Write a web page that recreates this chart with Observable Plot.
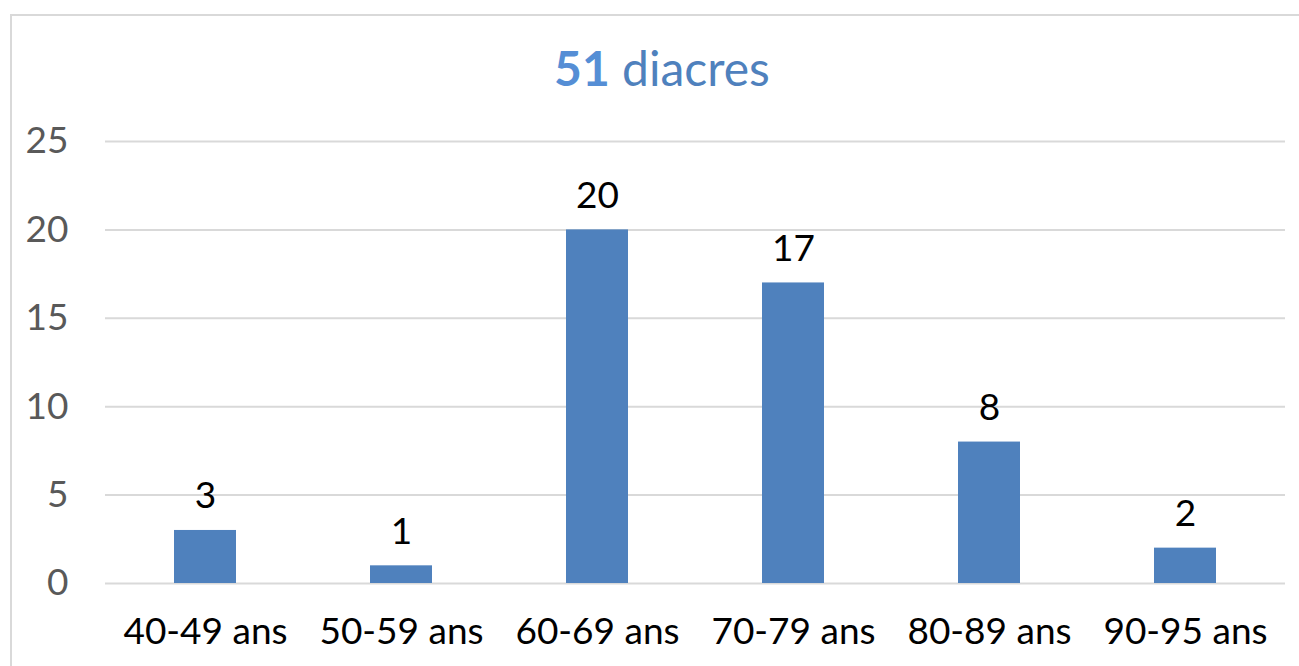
<!DOCTYPE html>
<html>
<head>
<meta charset="utf-8">
<script src="https://cdn.jsdelivr.net/npm/d3@7"></script>
<script src="https://cdn.jsdelivr.net/npm/@observablehq/plot@0.6"></script>
<style>
  html, body { margin: 0; padding: 0; background: #fff; overflow: hidden; }
  body { width: 1299px; height: 666px; position: relative; font-family: Lato, "Open Sans", sans-serif; }
  #frame { position: absolute; left: 10px; top: 14px; width: 1400px; height: 800px;
           border-left: 2px solid #D9D9D9; border-top: 2px solid #D9D9D9; box-sizing: border-box; }
  #title { position: absolute; left: 10px; width: 1304px; top: 40px; text-align: center;
           font-size: 48px; line-height: 56px; color: #4F81BD; }
  #title b { color: #558ED5; font-weight: 700; }
  #chart { position: absolute; left: 0; top: 110px; }
</style>
</head>
<body>
<div id="frame"></div>
<div id="title"><b>51</b> diacres</div>
<div id="chart"></div>
<script>
const categories = ["40-49 ans", "50-59 ans", "60-69 ans", "70-79 ans", "80-89 ans", "90-95 ans"];
const values = [3, 1, 20, 17, 8, 2];
const yTicks = [0, 5, 10, 15, 20, 25];

const data = categories.map((c, i) => ({category: c, value: values[i]}));

const chart = Plot.plot({
  width: 1299,
  height: 556,
  marginLeft: 105,
  marginRight: 14,
  marginTop: 31,
  marginBottom: 83,
  style: {fontFamily: "Lato, 'Open Sans', sans-serif", fontSize: "37px", background: "transparent", overflow: "visible"},
  x: {domain: categories, paddingInner: 0.685, paddingOuter: 0.3425, label: null},
  y: {domain: [0, 25], label: null},
  marks: [
    Plot.gridY(yTicks, {stroke: "#D9D9D9", strokeOpacity: 1, strokeWidth: 2}),
    Plot.barY(data, {x: "category", y: "value", fill: "#4F81BD"}),
    Plot.text(data, {x: "category", y: "value", text: d => String(d.value), lineAnchor: "bottom", dy: -22, fill: "#000", fontSize: 37}),
    Plot.axisY({ticks: yTicks, tickSize: 0, tickPadding: 37, tickFormat: d => String(d), fill: "#595959", fontSize: 37}),
    Plot.axisX({tickSize: 0, tickPadding: 34, fill: "#000", fontSize: 37})
  ]
});
document.getElementById("chart").appendChild(chart);
</script>
</body>
</html>
